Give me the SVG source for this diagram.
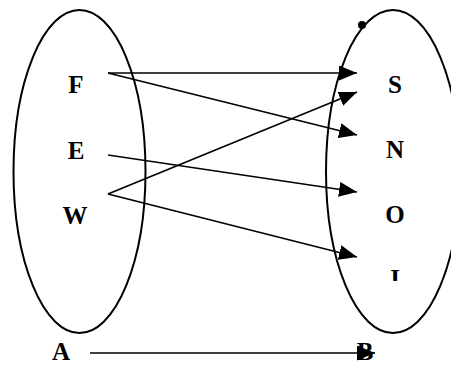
<svg xmlns="http://www.w3.org/2000/svg" width="451" height="365" viewBox="0 0 451 365">
<style>
.set{fill:none;stroke:#000;stroke-width:2}
.lbl{font-family:"Liberation Serif","Times New Roman",serif;font-weight:bold;font-size:25px;fill:#000;text-anchor:middle}
.con{fill:none;stroke:#000;stroke-width:1.7}
</style>
<defs>
<marker id="ah" markerUnits="userSpaceOnUse" markerWidth="19" markerHeight="16" refX="18" refY="7.5" orient="auto">
<path d="M0,0 L18,7.5 L0,15 Z" fill="#000"/>
</marker>
<clipPath id="cut"><rect x="370" y="260" width="50" height="21"/></clipPath>
</defs>
<g id="setA">
<ellipse class="set" cx="79.5" cy="171.5" rx="66" ry="161.5"/>
<text class="lbl" x="76" y="93">F</text>
<text class="lbl" x="76" y="159">E</text>
<text class="lbl" x="75" y="224">W</text>
</g>
<g id="setB">
<ellipse class="set" cx="393" cy="171.5" rx="67" ry="161.5"/>
<circle cx="362" cy="25" r="4" fill="#000"/>
<text class="lbl" x="395" y="93">S</text>
<text class="lbl" x="395" y="158">N</text>
<text class="lbl" x="395" y="223">O</text>
<text class="lbl" x="395" y="287" clip-path="url(#cut)">I</text>
</g>
<g id="labelA"><text class="lbl" x="61" y="360">A</text></g>
<g id="labelB"><text class="lbl" x="365" y="360">B</text></g>
<g id="connectors">
<line class="con" x1="108" y1="73" x2="357" y2="73" marker-end="url(#ah)"/>
<line class="con" x1="108" y1="73" x2="357" y2="135" marker-end="url(#ah)"/>
<line class="con" x1="108" y1="155" x2="357" y2="192" marker-end="url(#ah)"/>
<line class="con" x1="108" y1="194" x2="357" y2="92" marker-end="url(#ah)"/>
<line class="con" x1="108" y1="194" x2="357" y2="257" marker-end="url(#ah)"/>
<line class="con" x1="90" y1="353" x2="375" y2="353" marker-end="url(#ah)"/>
</g>
</svg>
